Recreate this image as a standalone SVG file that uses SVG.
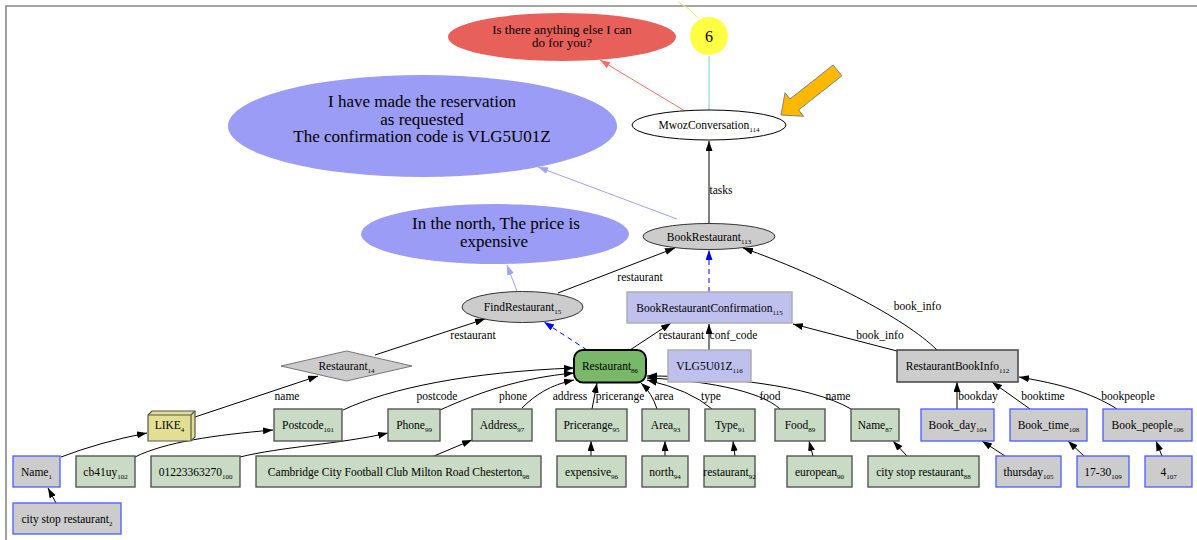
<svg xmlns="http://www.w3.org/2000/svg" width="1197" height="540" viewBox="0 0 1197 540">
<style>
text{font-family:"Liberation Serif","Times New Roman",serif;fill:#000}
.t{font-size:11.5px;text-anchor:middle}
.s{font-size:7px}
.lbl{font-size:11.5px;text-anchor:middle}
.big{font-size:17px;text-anchor:middle}
.g{fill:#c9dbc5;stroke:#555;stroke-width:1.4}
.bl{fill:#cccccc;stroke:#4a5cff;stroke-width:1.3}
.lav{fill:#c0c0ee;stroke:#aaaaaa;stroke-width:1.4}
.gr{fill:#cccccc;stroke:#333;stroke-width:1}
.e{fill:none;stroke:#000;stroke-width:1;marker-end:url(#ah)}
.dash{fill:none;stroke:#0000ff;stroke-width:1;stroke-dasharray:5,4;marker-end:url(#ahb)}
.lb{fill:none;stroke:#a0a2f8;stroke-width:1;marker-end:url(#ahl)}
</style>
<defs>
<marker id="ah" markerUnits="userSpaceOnUse" markerWidth="10" markerHeight="8" refX="10" refY="3.5" orient="auto"><path d="M0,0 L10,3.5 L0,7 z" fill="#000"/></marker>
<marker id="ahb" markerUnits="userSpaceOnUse" markerWidth="10" markerHeight="8" refX="10" refY="3.5" orient="auto"><path d="M0,0 L10,3.5 L0,7 z" fill="#0000ff"/></marker>
<marker id="ahl" markerUnits="userSpaceOnUse" markerWidth="10" markerHeight="8" refX="10" refY="3.5" orient="auto"><path d="M0,0 L10,3.5 L0,7 z" fill="#a0a2f8"/></marker>
<marker id="ahr" markerUnits="userSpaceOnUse" markerWidth="10" markerHeight="8" refX="10" refY="3.5" orient="auto"><path d="M0,0 L10,3.5 L0,7 z" fill="#f07060"/></marker>
</defs>
<rect width="1197" height="540" fill="#fff"/>
<path d="M6,540 V6 H1197" fill="none" stroke="#888" stroke-width="1.6"/>

<g id="connectors">
<path d="M698,18 Q690,8 678,2" fill="none" stroke="#f2ea70" stroke-width="1"/>
<path d="M709,56 V110" fill="none" stroke="#80d0d0" stroke-width="1"/>
<path d="M685,111 L600,60" fill="none" stroke="#f07060" stroke-width="1" marker-end="url(#ahr)"/>
<path class="e" d="M709,224 V141"/>
<path class="lb" d="M677,219 L538,167"/>
<path class="lb" d="M517,291 L507,265"/>
<path class="e" d="M558,293 L675,248"/>
<path class="dash" d="M709,292 V250"/>
<path class="dash" d="M587,350 L544,322"/>
<path class="e" d="M630,350 L671,323"/>
<path class="e" d="M709,350 V324"/>
<path class="e" d="M897,351 L793,324"/>
<path class="e" d="M937,350 C905,318 820,275 743,248"/>
<path class="e" d="M375,355 L485,319"/>
<path class="e" d="M195,417 L318,376"/>
<path class="e" d="M61,457 Q100,442 147,433"/>
<path class="e" d="M135,457 C165,442 215,435 273,430"/>
<path class="e" d="M240,457 C280,447 340,444 388,433"/>
<path class="e" d="M434,456 L472,440"/>
<path class="e" d="M591,456 V441"/>
<path class="e" d="M665,456 V441"/>
<path class="e" d="M735,456 L733,441"/>
<path class="e" d="M813,456 L809,441"/>
<path class="e" d="M907,456 L893,441"/>
<path class="e" d="M1005,456 L982,441"/>
<path class="e" d="M1084,456 L1068,441"/>
<path class="e" d="M1162,456 L1156,441"/>
<path class="e" d="M56,503 L48,488"/>
<path class="e" d="M343,410 C390,388 470,372 574,368"/>
<path class="e" d="M440,410 C480,392 520,378 574,373"/>
<path class="e" d="M522,408 C535,395 550,385 574,380"/>
<path class="e" d="M592,409 L597,383"/>
<path class="e" d="M657,409 Q652,393 641,383"/>
<path class="e" d="M712,409 Q690,390 647,380"/>
<path class="e" d="M780,409 C760,390 700,380 647,378"/>
<path class="e" d="M851,409 C810,385 720,376 647,376"/>
<path class="e" d="M957,409 V382"/>
<path class="e" d="M1030,409 L992,382"/>
<path class="e" d="M1117,409 C1090,392 1060,384 1019,377"/>
<text class="lbl" x="721" y="194">tasks</text>
<text class="lbl" x="640" y="281">restaurant</text>
<text class="lbl" x="473" y="339">restaurant</text>
<text class="lbl" x="681.5" y="339">restaurant</text>
<text class="lbl" x="733.5" y="339">conf_code</text>
<text class="lbl" x="880" y="339">book_info</text>
<text class="lbl" x="917.5" y="310">book_info</text>
<text class="lbl" x="287" y="400">name</text>
<text class="lbl" x="437" y="400">postcode</text>
<text class="lbl" x="513" y="400">phone</text>
<text class="lbl" x="570" y="400">address</text>
<text class="lbl" x="620" y="400">pricerange</text>
<text class="lbl" x="664" y="400">area</text>
<text class="lbl" x="711" y="400">type</text>
<text class="lbl" x="770" y="400">food</text>
<text class="lbl" x="838" y="400">name</text>
<text class="lbl" x="978" y="400">bookday</text>
<text class="lbl" x="1043" y="400">booktime</text>
<text class="lbl" x="1128" y="400">bookpeople</text>
</g>

<g id="reply-other">
<ellipse cx="562" cy="37" rx="114" ry="24" fill="#e8605a"/>
<text x="562" y="33.5" style="font-size:13px;text-anchor:middle">Is there anything else I can</text>
<text x="562" y="47" style="font-size:13px;text-anchor:middle">do for you?</text>
</g>
<g id="turn-6">
<circle cx="709" cy="36" r="19" fill="#ffff44"/>
<text x="709" y="42" style="font-size:16px;text-anchor:middle">6</text>
</g>
<g id="pointer">
<polygon points="781,115 803.6,116.3 798.6,110 841.8,75.9 833.2,64.9 790,99 785,92.7" fill="#ffb800" stroke="#4d7394" stroke-width="0.8"/>
</g>
<g id="MwozConversation114">
<ellipse cx="709" cy="125" rx="77" ry="15" fill="#fff" stroke="#000" stroke-width="1"/>
<text class="t" x="709" y="129">MwozConversation<tspan class="s" dy="3">114</tspan></text>
</g>
<g id="reply-reservation">
<ellipse cx="422.5" cy="126" rx="194.5" ry="51" fill="#9a9cf5"/>
<text class="big" x="422" y="107">I have made the reservation</text>
<text class="big" x="422" y="124.5">as requested</text>
<text class="big" x="422" y="142">The confirmation code is VLG5U01Z</text>
</g>
<g id="reply-north">
<ellipse cx="495" cy="234" rx="134" ry="30" fill="#9a9cf5"/>
<text class="big" x="496" y="229">In the north, The price is</text>
<text class="big" x="494" y="247">expensive</text>
</g>
<g id="BookRestaurant113">
<ellipse class="gr" cx="709" cy="236.5" rx="66" ry="13"/>
<text class="t" x="709" y="240.5">BookRestaurant<tspan class="s" dy="3">113</tspan></text>
</g>
<g id="FindRestaurant15">
<ellipse class="gr" cx="522.5" cy="307" rx="60.5" ry="15.5"/>
<text class="t" x="522.5" y="311">FindRestaurant<tspan class="s" dy="3">15</tspan></text>
</g>
<g id="BookRestaurantConfirmation115">
<rect class="lav" x="627" y="292" width="165" height="31"/>
<text class="t" x="709.5" y="311.5">BookRestaurantConfirmation<tspan class="s" dy="3">115</tspan></text>
</g>
<g id="Restaurant86">
<rect x="574" y="350" width="72" height="32.5" rx="9" fill="#79b769" stroke="#000" stroke-width="2"/>
<text class="t" x="610" y="370">Restaurant<tspan class="s" dy="3">86</tspan></text>
</g>
<g id="VLG5U01Z116">
<rect class="lav" x="668" y="350" width="83" height="32"/>
<text class="t" x="709.5" y="370">VLG5U01Z<tspan class="s" dy="3">116</tspan></text>
</g>
<g id="RestaurantBookInfo112">
<rect x="897" y="350" width="121" height="32" fill="#cccccc" stroke="#444" stroke-width="1.5"/>
<text class="t" x="957.5" y="370">RestaurantBookInfo<tspan class="s" dy="3">112</tspan></text>
</g>
<g id="Restaurant14">
<polygon points="281,366 346.5,351 412,366 346.5,381" fill="#cccccc" stroke="#777" stroke-width="1"/>
<text class="t" x="346.5" y="370">Restaurant<tspan class="s" dy="3">14</tspan></text>
</g>
<g id="LIKE4">
<path d="M148,415 L152,411 H195 V437 L191,441 H148 Z" fill="#e2de92" stroke="#555" stroke-width="1.2"/>
<path d="M148,415 H191 V441 M191,415 L195,411" fill="none" stroke="#555" stroke-width="1.2"/>
<text class="t" x="169.5" y="429">LIKE<tspan class="s" dy="3">4</tspan></text>
</g>
<g id="Postcode101"><rect class="g" x="274" y="409" width="68" height="32"/><text class="t" x="308" y="429">Postcode<tspan class="s" dy="3">101</tspan></text></g>
<g id="Phone99"><rect class="g" x="388" y="409" width="52" height="32"/><text class="t" x="414" y="429">Phone<tspan class="s" dy="3">99</tspan></text></g>
<g id="Address97"><rect class="g" x="472" y="409" width="60" height="32"/><text class="t" x="502" y="429">Address<tspan class="s" dy="3">97</tspan></text></g>
<g id="Pricerange95"><rect class="g" x="556" y="409" width="71" height="32"/><text class="t" x="591.5" y="429">Pricerange<tspan class="s" dy="3">95</tspan></text></g>
<g id="Area93"><rect class="g" x="642" y="409" width="47" height="32"/><text class="t" x="665.5" y="429">Area<tspan class="s" dy="3">93</tspan></text></g>
<g id="Type91"><rect class="g" x="705" y="409" width="50" height="32"/><text class="t" x="730" y="429">Type<tspan class="s" dy="3">91</tspan></text></g>
<g id="Food89"><rect class="g" x="775" y="409" width="50" height="32"/><text class="t" x="800" y="429">Food<tspan class="s" dy="3">89</tspan></text></g>
<g id="Name87"><rect class="g" x="851" y="409" width="48" height="32"/><text class="t" x="875" y="429">Name<tspan class="s" dy="3">87</tspan></text></g>
<g id="Book_day104"><rect class="bl" x="921" y="409" width="73" height="32"/><text class="t" x="957.5" y="429">Book_day<tspan class="s" dy="3">104</tspan></text></g>
<g id="Book_time108"><rect class="bl" x="1010" y="409" width="77" height="32"/><text class="t" x="1048.5" y="429">Book_time<tspan class="s" dy="3">108</tspan></text></g>
<g id="Book_people106"><rect class="bl" x="1103" y="409" width="89" height="32"/><text class="t" x="1147.5" y="429">Book_people<tspan class="s" dy="3">106</tspan></text></g>
<g id="Name1"><rect class="bl" x="13" y="456" width="47" height="31"/><text class="t" x="36.5" y="475.5">Name<tspan class="s" dy="3">1</tspan></text></g>
<g id="cb41uy102"><rect class="g" x="76" y="456" width="59" height="31"/><text class="t" x="105.5" y="475.5">cb41uy<tspan class="s" dy="3">102</tspan></text></g>
<g id="n01223363270_100"><rect class="g" x="151" y="456" width="89" height="31"/><text class="t" x="195.5" y="475.5">01223363270<tspan class="s" dy="3">100</tspan></text></g>
<g id="Address98"><rect class="g" x="256" y="456" width="285" height="31"/><text class="t" x="398.5" y="475.5">Cambridge City Football Club Milton Road Chesterton<tspan class="s" dy="3">98</tspan></text></g>
<g id="expensive96"><rect class="g" x="557" y="456" width="69" height="31"/><text class="t" x="591.5" y="475.5">expensive<tspan class="s" dy="3">96</tspan></text></g>
<g id="north94"><rect class="g" x="642" y="456" width="46" height="31"/><text class="t" x="665" y="475.5">north<tspan class="s" dy="3">94</tspan></text></g>
<g id="restaurant92"><rect class="g" x="704" y="456" width="51" height="31"/><text class="t" x="729.5" y="475.5">restaurant<tspan class="s" dy="3">92</tspan></text></g>
<g id="european90"><rect class="g" x="787" y="456" width="65" height="31"/><text class="t" x="819.5" y="475.5">european<tspan class="s" dy="3">90</tspan></text></g>
<g id="citystop88"><rect class="g" x="868" y="456" width="111" height="31"/><text class="t" x="923.5" y="475.5">city stop restaurant<tspan class="s" dy="3">88</tspan></text></g>
<g id="thursday105"><rect class="bl" x="996" y="456" width="65" height="31"/><text class="t" x="1028.5" y="475.5">thursday<tspan class="s" dy="3">105</tspan></text></g>
<g id="t17-30_109"><rect class="bl" x="1077" y="456" width="52" height="31"/><text class="t" x="1103" y="475.5">17-30<tspan class="s" dy="3">109</tspan></text></g>
<g id="n4_107"><rect class="bl" x="1145" y="456" width="47" height="31"/><text class="t" x="1168.5" y="475.5">4<tspan class="s" dy="3">107</tspan></text></g>
<g id="citystop2"><rect class="bl" x="13" y="503" width="108" height="31"/><text class="t" x="67" y="522.5">city stop restaurant<tspan class="s" dy="3">2</tspan></text></g>
</svg>
